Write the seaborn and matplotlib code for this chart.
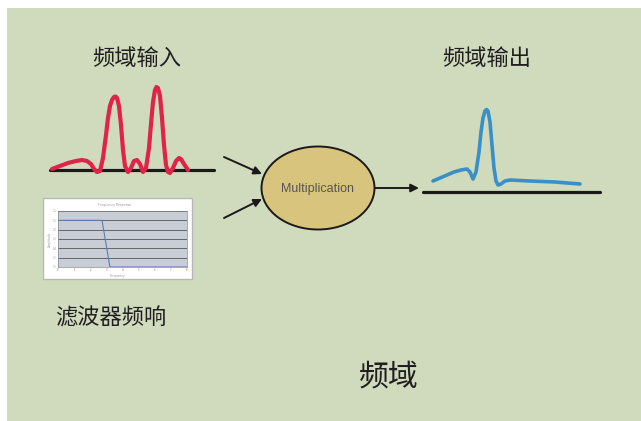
import numpy as np
import pandas as pd
import matplotlib
matplotlib.use('Agg')
import matplotlib.pyplot as plt
from matplotlib.patches import Ellipse, Rectangle
import seaborn as sns

# input spectrum (red) in pixel coordinates of the slide
in_x = [52, 60, 68, 76, 82, 87, 91, 94, 97, 100, 103, 106, 108, 110, 112, 114, 115.5, 117, 119,
        121, 123, 125, 128, 131, 134, 137, 140, 143, 146, 149, 151, 153, 155, 156.5, 158, 160,
        162, 164, 166, 168, 170, 173, 176, 179, 181, 184, 188]
in_y = [169, 166, 163, 161, 160, 161, 164, 169, 172, 171, 158, 135, 118, 106, 100, 97, 96.5, 98,
        106, 125, 150, 166, 172, 168, 161, 160, 164, 172, 168, 148, 124, 102, 90, 87, 88, 96,
        118, 145, 165, 172, 173, 168, 161, 158, 159, 164, 170]

# output spectrum (blue)
out_x = [433, 440, 447, 454, 461, 467, 470, 473, 476, 479, 481, 483, 485, 486.5, 488, 490, 492,
         494, 496, 498, 501, 505, 510, 530, 555, 580]
out_y = [181, 178, 175, 172, 170, 169, 172, 179, 172, 152, 132, 118, 111, 109.5, 111, 122,
         145, 168, 181, 185, 184, 181, 180, 181, 182, 184]

# filter response thumbnail
filt_f = [0, 1, 2, 2.73, 3.22, 4, 5, 6, 7, 8]
filt_a = [1.0, 1.0, 1.0, 1.0, 0.0, 0.0, 0.0, 0.0, 0.0, 0.0]

labels = ['频域输入', '频域输出', '滤波器频响', '频域']

sns.set_theme(style='white')
plt.rcParams['font.family'] = ['Noto Sans CJK SC', 'DejaVu Sans']

fig = plt.figure(figsize=(6.41, 4.21), dpi=100)
fig.patch.set_facecolor('white')
ax = fig.add_axes([0, 0, 1, 1])
ax.set_xlim(0, 641)
ax.set_ylim(421, 0)
ax.axis('off')

# slide background
ax.add_patch(Rectangle((7, 8), 640, 420, facecolor='#D0DBBE', edgecolor='none', zorder=0))

# baselines
ax.plot([50, 214], [170, 170], color='#1a1a1a', lw=2.3, zorder=2)
ax.plot([423, 600], [192, 192], color='#1a1a1a', lw=2.3, zorder=2)

df_in = pd.DataFrame({'x': in_x, 'y': in_y})
df_out = pd.DataFrame({'x': out_x, 'y': out_y})
sns.lineplot(data=df_in, x='x', y='y', sort=False, estimator=None, color='#E0234A',
             lw=3.0, ax=ax, zorder=3, solid_joinstyle='round', solid_capstyle='round')
sns.lineplot(data=df_out, x='x', y='y', sort=False, estimator=None, color='#3A8FC6',
             lw=2.6, ax=ax, zorder=3, solid_joinstyle='round', solid_capstyle='round')
ax.set_xlabel('')
ax.set_ylabel('')

# arrows into multiplication
arrow = dict(arrowstyle='-|>', color='#1a1a1a', lw=1.4, mutation_scale=12, shrinkA=0, shrinkB=0)
ax.annotate('', xy=(262, 174), xytext=(224, 157), arrowprops=arrow)
ax.annotate('', xy=(262, 199), xytext=(224, 218), arrowprops=arrow)
ax.annotate('', xy=(419, 188), xytext=(375, 188), arrowprops=arrow)

ax.add_patch(Ellipse((318, 188), 113, 83, facecolor='#D8C47C', edgecolor='#1a1a1a', lw=1.4, zorder=4))
ax.text(318, 189, 'Multiplication', ha='center', va='center', fontsize=9,
        family=['Liberation Sans', 'DejaVu Sans'], color='#555555', zorder=5)

# filter thumbnail
ax.add_patch(Rectangle((43, 198), 149, 81, facecolor='white', edgecolor='#B8B8B8', lw=1.0, zorder=2))
ax.text(115, 205, 'Frequency Response', ha='center', va='center', fontsize=2.5, color='#999999')
ax.text(117, 276, 'Frequency', ha='center', va='center', fontsize=2.3, color='#999999')
ax.text(50, 239, 'Amplitude', ha='center', va='center', fontsize=2.3, color='#999999', rotation=90)

ins = fig.add_axes([58 / 641, 1 - 267 / 421, 129 / 641, 56 / 421])
ins.set_facecolor('#C9CDD6')
sns.lineplot(x=filt_f, y=filt_a, ax=ins, color='#5B7DB5', lw=0.8)
ins.set_xlim(0, 8)
ins.set_ylim(0, 1.2)
ins.set_yticks(np.arange(0, 1.21, 0.2))
ins.set_xticks(range(0, 9))
ins.tick_params(labelsize=2, colors='#aaaaaa', length=0, pad=1)
ins.set_xticklabels([str(v) for v in range(0, 9)], color='#c06060')
ins.set_yticklabels([f'{v:.1f}' for v in np.arange(0, 1.21, 0.2)])
ins.grid(axis='y', color='#555555', lw=0.6)
ins.set_axisbelow(True)
for s in ins.spines.values():
    s.set_color('#888888')
    s.set_linewidth(0.5)

txt = dict(color='#1f1f1f', ha='center', va='center')
ax.text(137, 58, labels[0], fontsize=16, **txt)
ax.text(487, 58, labels[1], fontsize=16, **txt)
ax.text(111, 318, labels[2], fontsize=16, **txt)
ax.text(389, 377, labels[3], fontsize=21.5, **txt)

fig.savefig('out.png', dpi=100, facecolor='white')
